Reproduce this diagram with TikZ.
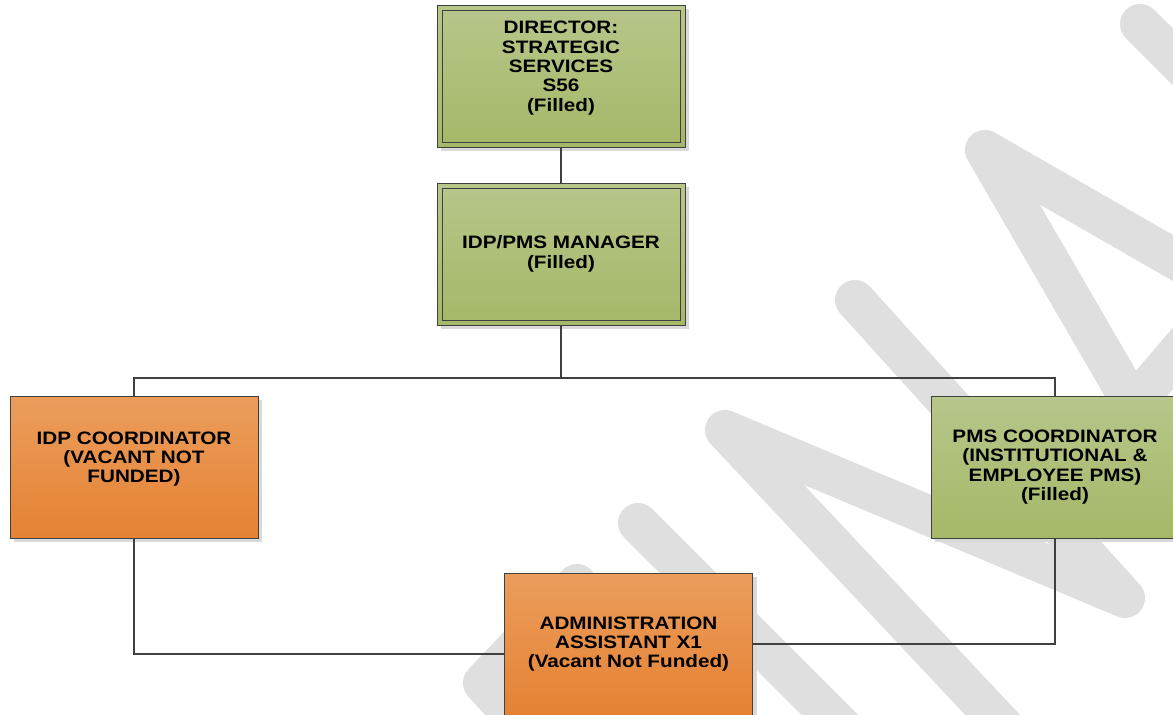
\documentclass[tikz,border=0pt]{standalone}
\usepackage{fontspec}
\newfontfamily\boxfont{Liberation Sans}[FakeStretch=1.15]
\usetikzlibrary{shadows}
\definecolor{leaftop}{RGB}{183,198,138}
\definecolor{leafbot}{RGB}{165,184,104}
\definecolor{rusttop}{RGB}{235,157,92}
\definecolor{rustbot}{RGB}{229,130,52}
\definecolor{rim}{RGB}{64,64,64}
\definecolor{wmgray}{RGB}{223,223,223}

\begin{document}
\begin{tikzpicture}[x=1pt,y=-1pt,
  every node/.style={font=\boxfont\bfseries\fontsize{18}{19.4}\selectfont},
  post/.style={draw=rim, line width=.8pt, minimum width=248pt, minimum height=142pt,
    inner sep=0pt, outer sep=0pt, align=center,
    drop shadow={shadow xshift=4pt, shadow yshift=-4pt, fill=black!15, opacity=1}},
  filled/.style={post, top color=leaftop, bottom color=leafbot},
  vacant/.style={post, top color=rusttop, bottom color=rustbot},
  conn/.style={draw=rim, line width=1.8pt}
]
\useasboundingbox (0,0) rectangle (1173,715);
\clip (0,0) rectangle (1173,715);

\draw[wmgray, line width=40pt, line cap=round, line join=round]
  (1140,24) -- (1260,144)
  (1260,308) -- (985,150) -- (1133,405) -- (1240,280)
  (855,300) -- (1125,598) -- (725,430) -- (1035,760)
  (638,523) -- (880,765)
  (577,584) -- (483,683) -- (540,745);

\node[filled] (dir) at (561,76) {DIRECTOR:\\STRATEGIC\\SERVICES\\S56\\(Filled)\\ \mbox{}};
\node[filled] (mgr) at (561,254) {IDP/PMS MANAGER\\(Filled)};
\node[vacant] (idp) at (134,467) {IDP COORDINATOR\\(VACANT NOT\\FUNDED)\\ \mbox{}};
\node[filled] (pms) at (1055,467) {PMS COORDINATOR\\(INSTITUTIONAL \&\\EMPLOYEE PMS)\\(Filled)};
\node[vacant] (adm) at (628.5,644) {ADMINISTRATION\\ASSISTANT X1\\(Vacant Not Funded)};
\foreach \n in {dir,mgr}
  \draw[rim, line width=.8pt] ([shift={(5pt,-5pt)}]\n.north west) rectangle ([shift={(-5pt,5pt)}]\n.south east);

\path (mgr.south) ++(0,53) coordinate (split);
\draw[conn] (dir) -- (mgr);
\draw[conn] (mgr.south) -- (split);
\draw[conn] (idp.north) |- (split) -| (pms.north);
\draw[conn] (idp.south) |- ([yshift=-10pt]adm.west) -- ([yshift=36pt]adm.west);
\draw[conn] (pms.south) |- (adm.east);
\end{tikzpicture}
\end{document}
